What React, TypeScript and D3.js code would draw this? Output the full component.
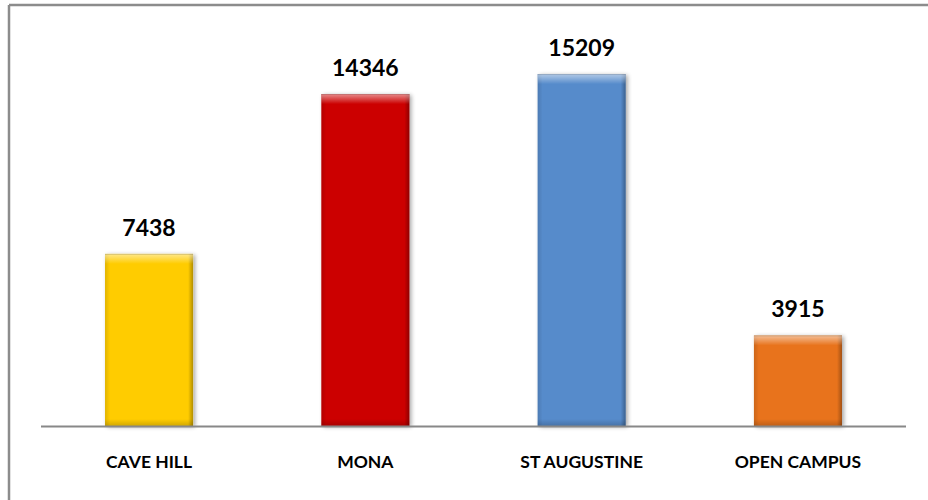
import React from "react";
import * as d3 from "d3";

const categories = ["CAVE HILL", "MONA", "ST AUGUSTINE", "OPEN CAMPUS"];
const values = [7438, 14346, 15209, 3915];
const colors = ["#FFCC00", "#CC0000", "#568BCB", "#E8731A"];
const yMax = 18000;

const W = 928;
const H = 500;

export default function App() {
  const x = d3.scaleBand<string>().domain(categories).range([41, 906]).paddingInner(0.593).paddingOuter(0.296);
  const y = d3.scaleLinear().domain([0, yMax]).range([426, 9.5]);
  const bw = x.bandwidth();
  const font = "Lato, 'Open Sans', 'Liberation Sans', sans-serif";

  return (
    <svg width={W} height={H} style={{ position: "fixed", left: 0, top: 0 }}>
      <defs>
        <filter id="shadow" x="-20%" y="-10%" width="140%" height="120%">
          <feGaussianBlur in="SourceAlpha" stdDeviation="2" />
          <feOffset dx="2" dy="1" result="b" />
          <feComponentTransfer>
            <feFuncA type="linear" slope="0.35" />
          </feComponentTransfer>
          <feMerge>
            <feMergeNode />
            <feMergeNode in="SourceGraphic" />
          </feMerge>
        </filter>
        <linearGradient id="topHi" x1="0" y1="0" x2="0" y2="1">
          <stop offset="0" stopColor="#fff" stopOpacity="0.55" />
          <stop offset="1" stopColor="#fff" stopOpacity="0" />
        </linearGradient>
        <linearGradient id="leftSh" x1="0" y1="0" x2="1" y2="0">
          <stop offset="0" stopColor="#000" stopOpacity="0.12" />
          <stop offset="1" stopColor="#000" stopOpacity="0" />
        </linearGradient>
        <linearGradient id="rightSh" x1="1" y1="0" x2="0" y2="0">
          <stop offset="0" stopColor="#000" stopOpacity="0.3" />
          <stop offset="1" stopColor="#000" stopOpacity="0" />
        </linearGradient>
        <linearGradient id="botSh" x1="0" y1="1" x2="0" y2="0">
          <stop offset="0" stopColor="#000" stopOpacity="0.18" />
          <stop offset="1" stopColor="#000" stopOpacity="0" />
        </linearGradient>
      </defs>
      <rect x={0} y={0} width={W} height={H} fill="#fff" />
      {/* outer frame */}
      <line x1={9} y1={5} x2={W} y2={5} stroke="#8c8c8c" strokeWidth={2.5} />
      <line x1={9} y1={5} x2={9} y2={H} stroke="#8c8c8c" strokeWidth={2.5} />

      {categories.map((c, i) => {
        const x0 = x(c)!;
        const y0 = y(values[i]);
        const h = y(0) - y0;
        return (
          <g key={c}>
            <rect x={x0} y={y0} width={bw} height={h} fill={colors[i]} filter="url(#shadow)" />
            <rect x={x0} y={y0} width={5} height={h} fill="url(#leftSh)" />
            <rect x={x0 + bw - 5} y={y0} width={5} height={h} fill="url(#rightSh)" />
            <rect x={x0} y={y0 + h - 7} width={bw} height={7} fill="url(#botSh)" />
            <rect x={x0} y={y0} width={bw} height={10} fill="url(#topHi)" />
            <line x1={x0} x2={x0 + bw} y1={y0 + 0.5} y2={y0 + 0.5} stroke="#000" strokeOpacity={0.15} />
            <text
              x={x0 + bw / 2}
              y={y0 - 18}
              textAnchor="middle"
              fontFamily={font}
              fontWeight="bold"
              fontSize={23}
              fill="#000"
            >
              {values[i]}
            </text>
            <text
              x={x0 + bw / 2}
              y={468}
              textAnchor="middle"
              fontFamily={font}
              fontWeight="bold"
              fontSize={17.5}
              fill="#000"
            >
              {c}
            </text>
          </g>
        );
      })}
      <line x1={41} x2={906} y1={y(0) + 0.5} y2={y(0) + 0.5} stroke="#888" strokeWidth={2} />
    </svg>
  );
}
